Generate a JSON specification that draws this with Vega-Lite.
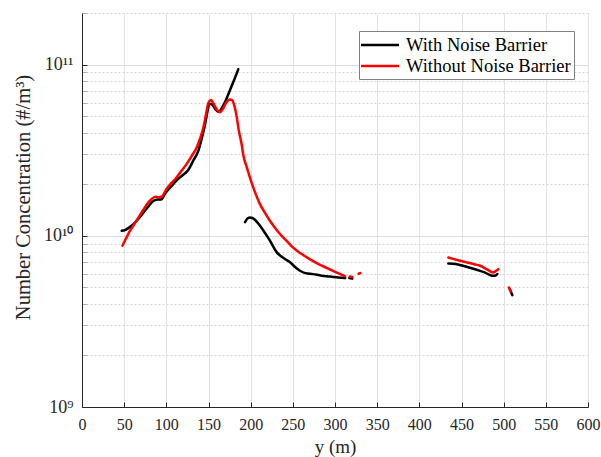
{
  "$schema": "https://vega.github.io/schema/vega-lite/v6.json",
  "width": 506,
  "height": 394,
  "autosize": {"type": "none"},
  "padding": {"left": 82, "top": 13, "right": 13, "bottom": 50},
  "background": "white",
  "config": {
    "view": {"stroke": null},
    "font": "Liberation Serif",
    "axis": {"labelFont": "Liberation Serif", "titleFont": "Liberation Serif", "labelColor": "#262626", "titleColor": "#262626", "domainColor": "#262626", "tickColor": "#262626", "titleFontWeight": "normal"}
  },
  "data": {
    "values": [
      {"s": "With Noise Barrier", "g": 1, "x": 47, "v": 1.07e10},
      {"s": "With Noise Barrier", "g": 1, "x": 51, "v": 1.08e10},
      {"s": "With Noise Barrier", "g": 1, "x": 55, "v": 1.11e10},
      {"s": "With Noise Barrier", "g": 1, "x": 61, "v": 1.17e10},
      {"s": "With Noise Barrier", "g": 1, "x": 67, "v": 1.26e10},
      {"s": "With Noise Barrier", "g": 1, "x": 73, "v": 1.37e10},
      {"s": "With Noise Barrier", "g": 1, "x": 79, "v": 1.49e10},
      {"s": "With Noise Barrier", "g": 1, "x": 85, "v": 1.6e10},
      {"s": "With Noise Barrier", "g": 1, "x": 90, "v": 1.63e10},
      {"s": "With Noise Barrier", "g": 1, "x": 94, "v": 1.63e10},
      {"s": "With Noise Barrier", "g": 1, "x": 98, "v": 1.75e10},
      {"s": "With Noise Barrier", "g": 1, "x": 105, "v": 1.92e10},
      {"s": "With Noise Barrier", "g": 1, "x": 112, "v": 2.1e10},
      {"s": "With Noise Barrier", "g": 1, "x": 119, "v": 2.25e10},
      {"s": "With Noise Barrier", "g": 1, "x": 126, "v": 2.42e10},
      {"s": "With Noise Barrier", "g": 1, "x": 132, "v": 2.75e10},
      {"s": "With Noise Barrier", "g": 1, "x": 138, "v": 3.14e10},
      {"s": "With Noise Barrier", "g": 1, "x": 142, "v": 3.7e10},
      {"s": "With Noise Barrier", "g": 1, "x": 146, "v": 4.5e10},
      {"s": "With Noise Barrier", "g": 1, "x": 149, "v": 5.4e10},
      {"s": "With Noise Barrier", "g": 1, "x": 151, "v": 5.9e10},
      {"s": "With Noise Barrier", "g": 1, "x": 154, "v": 5.85e10},
      {"s": "With Noise Barrier", "g": 1, "x": 158, "v": 5.5e10},
      {"s": "With Noise Barrier", "g": 1, "x": 162, "v": 5.3e10},
      {"s": "With Noise Barrier", "g": 1, "x": 166, "v": 5.6e10},
      {"s": "With Noise Barrier", "g": 1, "x": 170, "v": 6.1e10},
      {"s": "With Noise Barrier", "g": 1, "x": 174, "v": 6.8e10},
      {"s": "With Noise Barrier", "g": 1, "x": 178, "v": 7.6e10},
      {"s": "With Noise Barrier", "g": 1, "x": 182, "v": 8.5e10},
      {"s": "With Noise Barrier", "g": 1, "x": 185.4, "v": 9.4e10},
      {"s": "With Noise Barrier", "g": 2, "x": 193.3, "v": 1.2e10},
      {"s": "With Noise Barrier", "g": 2, "x": 196, "v": 1.26e10},
      {"s": "With Noise Barrier", "g": 2, "x": 199, "v": 1.28e10},
      {"s": "With Noise Barrier", "g": 2, "x": 202, "v": 1.27e10},
      {"s": "With Noise Barrier", "g": 2, "x": 205, "v": 1.24e10},
      {"s": "With Noise Barrier", "g": 2, "x": 209, "v": 1.18e10},
      {"s": "With Noise Barrier", "g": 2, "x": 213, "v": 1.11e10},
      {"s": "With Noise Barrier", "g": 2, "x": 218, "v": 1.02e10},
      {"s": "With Noise Barrier", "g": 2, "x": 223, "v": 9.35e9},
      {"s": "With Noise Barrier", "g": 2, "x": 227, "v": 8.6e9},
      {"s": "With Noise Barrier", "g": 2, "x": 231, "v": 8.0e9},
      {"s": "With Noise Barrier", "g": 2, "x": 236, "v": 7.6e9},
      {"s": "With Noise Barrier", "g": 2, "x": 241, "v": 7.3e9},
      {"s": "With Noise Barrier", "g": 2, "x": 247, "v": 6.98e9},
      {"s": "With Noise Barrier", "g": 2, "x": 253, "v": 6.55e9},
      {"s": "With Noise Barrier", "g": 2, "x": 258.5, "v": 6.25e9},
      {"s": "With Noise Barrier", "g": 2, "x": 265, "v": 6.05e9},
      {"s": "With Noise Barrier", "g": 2, "x": 274, "v": 5.97e9},
      {"s": "With Noise Barrier", "g": 2, "x": 284, "v": 5.85e9},
      {"s": "With Noise Barrier", "g": 2, "x": 294, "v": 5.78e9},
      {"s": "With Noise Barrier", "g": 2, "x": 304, "v": 5.7e9},
      {"s": "With Noise Barrier", "g": 2, "x": 312, "v": 5.66e9},
      {"s": "With Noise Barrier", "g": 3, "x": 317, "v": 5.66e9},
      {"s": "With Noise Barrier", "g": 3, "x": 320.5, "v": 5.62e9},
      {"s": "With Noise Barrier", "g": 4, "x": 434.4, "v": 6.89e9},
      {"s": "With Noise Barrier", "g": 4, "x": 440, "v": 6.87e9},
      {"s": "With Noise Barrier", "g": 4, "x": 446, "v": 6.8e9},
      {"s": "With Noise Barrier", "g": 4, "x": 452, "v": 6.68e9},
      {"s": "With Noise Barrier", "g": 4, "x": 458, "v": 6.55e9},
      {"s": "With Noise Barrier", "g": 4, "x": 465, "v": 6.4e9},
      {"s": "With Noise Barrier", "g": 4, "x": 472, "v": 6.24e9},
      {"s": "With Noise Barrier", "g": 4, "x": 478, "v": 6.1e9},
      {"s": "With Noise Barrier", "g": 4, "x": 482, "v": 5.95e9},
      {"s": "With Noise Barrier", "g": 4, "x": 486, "v": 5.85e9},
      {"s": "With Noise Barrier", "g": 4, "x": 489.7, "v": 5.84e9},
      {"s": "With Noise Barrier", "g": 4, "x": 492.5, "v": 5.98e9},
      {"s": "With Noise Barrier", "g": 5, "x": 507.5, "v": 4.85e9},
      {"s": "With Noise Barrier", "g": 5, "x": 510.3, "v": 4.5e9},
      {"s": "Without Noise Barrier", "g": 1, "x": 48, "v": 8.75e9},
      {"s": "Without Noise Barrier", "g": 1, "x": 52, "v": 9.6e9},
      {"s": "Without Noise Barrier", "g": 1, "x": 57, "v": 1.07e10},
      {"s": "Without Noise Barrier", "g": 1, "x": 62, "v": 1.17e10},
      {"s": "Without Noise Barrier", "g": 1, "x": 67, "v": 1.28e10},
      {"s": "Without Noise Barrier", "g": 1, "x": 72, "v": 1.4e10},
      {"s": "Without Noise Barrier", "g": 1, "x": 77, "v": 1.53e10},
      {"s": "Without Noise Barrier", "g": 1, "x": 82, "v": 1.63e10},
      {"s": "Without Noise Barrier", "g": 1, "x": 87, "v": 1.69e10},
      {"s": "Without Noise Barrier", "g": 1, "x": 91, "v": 1.68e10},
      {"s": "Without Noise Barrier", "g": 1, "x": 95, "v": 1.7e10},
      {"s": "Without Noise Barrier", "g": 1, "x": 100, "v": 1.87e10},
      {"s": "Without Noise Barrier", "g": 1, "x": 106, "v": 2.03e10},
      {"s": "Without Noise Barrier", "g": 1, "x": 112, "v": 2.19e10},
      {"s": "Without Noise Barrier", "g": 1, "x": 118, "v": 2.4e10},
      {"s": "Without Noise Barrier", "g": 1, "x": 124, "v": 2.62e10},
      {"s": "Without Noise Barrier", "g": 1, "x": 130, "v": 2.92e10},
      {"s": "Without Noise Barrier", "g": 1, "x": 136, "v": 3.28e10},
      {"s": "Without Noise Barrier", "g": 1, "x": 140, "v": 3.7e10},
      {"s": "Without Noise Barrier", "g": 1, "x": 144, "v": 4.3e10},
      {"s": "Without Noise Barrier", "g": 1, "x": 147, "v": 5.1e10},
      {"s": "Without Noise Barrier", "g": 1, "x": 150, "v": 6.0e10},
      {"s": "Without Noise Barrier", "g": 1, "x": 153, "v": 6.2e10},
      {"s": "Without Noise Barrier", "g": 1, "x": 156, "v": 5.9e10},
      {"s": "Without Noise Barrier", "g": 1, "x": 160, "v": 5.45e10},
      {"s": "Without Noise Barrier", "g": 1, "x": 163.7, "v": 5.26e10},
      {"s": "Without Noise Barrier", "g": 1, "x": 167, "v": 5.5e10},
      {"s": "Without Noise Barrier", "g": 1, "x": 171, "v": 6.0e10},
      {"s": "Without Noise Barrier", "g": 1, "x": 175, "v": 6.25e10},
      {"s": "Without Noise Barrier", "g": 1, "x": 178, "v": 6.2e10},
      {"s": "Without Noise Barrier", "g": 1, "x": 180, "v": 5.9e10},
      {"s": "Without Noise Barrier", "g": 1, "x": 183, "v": 5.1e10},
      {"s": "Without Noise Barrier", "g": 1, "x": 186, "v": 4.1e10},
      {"s": "Without Noise Barrier", "g": 1, "x": 189.4, "v": 3.4e10},
      {"s": "Without Noise Barrier", "g": 1, "x": 191.3, "v": 2.95e10},
      {"s": "Without Noise Barrier", "g": 1, "x": 195, "v": 2.55e10},
      {"s": "Without Noise Barrier", "g": 1, "x": 201, "v": 2.05e10},
      {"s": "Without Noise Barrier", "g": 1, "x": 206, "v": 1.75e10},
      {"s": "Without Noise Barrier", "g": 1, "x": 211, "v": 1.53e10},
      {"s": "Without Noise Barrier", "g": 1, "x": 217, "v": 1.36e10},
      {"s": "Without Noise Barrier", "g": 1, "x": 223, "v": 1.22e10},
      {"s": "Without Noise Barrier", "g": 1, "x": 229, "v": 1.11e10},
      {"s": "Without Noise Barrier", "g": 1, "x": 235, "v": 1.02e10},
      {"s": "Without Noise Barrier", "g": 1, "x": 243, "v": 9.3e9},
      {"s": "Without Noise Barrier", "g": 1, "x": 250, "v": 8.55e9},
      {"s": "Without Noise Barrier", "g": 1, "x": 260, "v": 7.85e9},
      {"s": "Without Noise Barrier", "g": 1, "x": 270, "v": 7.3e9},
      {"s": "Without Noise Barrier", "g": 1, "x": 280, "v": 6.85e9},
      {"s": "Without Noise Barrier", "g": 1, "x": 290, "v": 6.5e9},
      {"s": "Without Noise Barrier", "g": 1, "x": 300, "v": 6.15e9},
      {"s": "Without Noise Barrier", "g": 1, "x": 312, "v": 5.8e9},
      {"s": "Without Noise Barrier", "g": 2, "x": 317.5, "v": 5.78e9},
      {"s": "Without Noise Barrier", "g": 2, "x": 320.5, "v": 5.74e9},
      {"s": "Without Noise Barrier", "g": 3, "x": 328, "v": 6.0e9},
      {"s": "Without Noise Barrier", "g": 3, "x": 330, "v": 6.05e9},
      {"s": "Without Noise Barrier", "g": 4, "x": 434.4, "v": 7.46e9},
      {"s": "Without Noise Barrier", "g": 4, "x": 440, "v": 7.33e9},
      {"s": "Without Noise Barrier", "g": 4, "x": 446, "v": 7.2e9},
      {"s": "Without Noise Barrier", "g": 4, "x": 452, "v": 7.08e9},
      {"s": "Without Noise Barrier", "g": 4, "x": 458, "v": 6.95e9},
      {"s": "Without Noise Barrier", "g": 4, "x": 465, "v": 6.82e9},
      {"s": "Without Noise Barrier", "g": 4, "x": 472, "v": 6.68e9},
      {"s": "Without Noise Barrier", "g": 4, "x": 477, "v": 6.5e9},
      {"s": "Without Noise Barrier", "g": 4, "x": 481.8, "v": 6.3e9},
      {"s": "Without Noise Barrier", "g": 4, "x": 485, "v": 6.15e9},
      {"s": "Without Noise Barrier", "g": 4, "x": 487.7, "v": 6.1e9},
      {"s": "Without Noise Barrier", "g": 4, "x": 491, "v": 6.25e9},
      {"s": "Without Noise Barrier", "g": 4, "x": 493.6, "v": 6.38e9},
      {"s": "Without Noise Barrier", "g": 5, "x": 506.3, "v": 4.99e9},
      {"s": "Without Noise Barrier", "g": 5, "x": 508.3, "v": 4.72e9}
    ]
  },
  "mark": {"type": "line", "strokeWidth": 2.5, "strokeCap": "round", "strokeJoin": "round", "interpolate": "monotone"},
  "encoding": {
    "x": {
      "field": "x", "type": "quantitative",
      "scale": {"domain": [0, 600], "nice": false},
      "axis": {
        "title": "y (m)", "values": [0, 50, 100, 150, 200, 250, 300, 350, 400, 450, 500, 550, 600],
        "labelFontSize": 16, "titleFontSize": 19, "ticks": true, "tickSize": -5, "labelPadding": 14, "titlePadding": 5,
        "grid": true, "gridColor": "#e3e3e3", "gridWidth": 1, "domainWidth": 1, "labelFlush": false
      }
    },
    "y": {
      "field": "v", "type": "quantitative",
      "scale": {"type": "log", "domain": [1e9, 2e11], "nice": false},
      "axis": {
        "title": "Number Concentration (#/m³)",
        "values": [1e9, 2e9, 3e9, 4e9, 5e9, 6e9, 7e9, 8e9, 9e9, 1e10, 2e10, 3e10, 4e10, 5e10, 6e10, 7e10, 8e10, 9e10, 1e11, 2e11],
        "labelExpr": "datum.value == 1e9 ? '10⁹' : datum.value == 1e10 ? '10¹⁰' : datum.value == 1e11 ? '10¹¹' : ''",
        "labelFontSize": 18, "titleFontSize": 20.5, "ticks": true, "tickSize": -5, "labelPadding": 14, "titlePadding": 10,
        "titleY": 184,
        "tickColor": {"condition": {"test": "datum.value == 1e9 || datum.value == 1e10 || datum.value == 1e11", "value": "#262626"}, "value": "#b0b0b0"},
        "labelOverlap": false,
        "grid": true,
        "gridColor": {"condition": {"test": "datum.value == 1e9 || datum.value == 1e10 || datum.value == 1e11", "value": "#dcdcdc"}, "value": "#d6d6d6"},
        "gridDash": {"condition": {"test": "datum.value == 1e9 || datum.value == 1e10 || datum.value == 1e11", "value": []}, "value": [2, 2]},
        "domainWidth": 1
      }
    },
    "color": {
      "field": "s", "type": "nominal",
      "scale": {"domain": ["With Noise Barrier", "Without Noise Barrier"], "range": ["#000000", "#ff0000"]},
      "legend": {
        "title": null, "orient": "none", "legendX": 277, "legendY": 18,
        "symbolType": "M-2,0H2", "symbolSize": 361, "symbolStrokeWidth": 2.5, "symbolOffset": 7,
        "labelFont": "Liberation Serif", "labelFontSize": 18.5, "labelColor": "#000000", "labelLimit": 0,
        "strokeColor": "#808080", "fillColor": "white", "padding": 3, "rowPadding": 0, "labelOffset": 15
      }
    },
    "detail": {"field": "g", "type": "nominal"}
  }
}
